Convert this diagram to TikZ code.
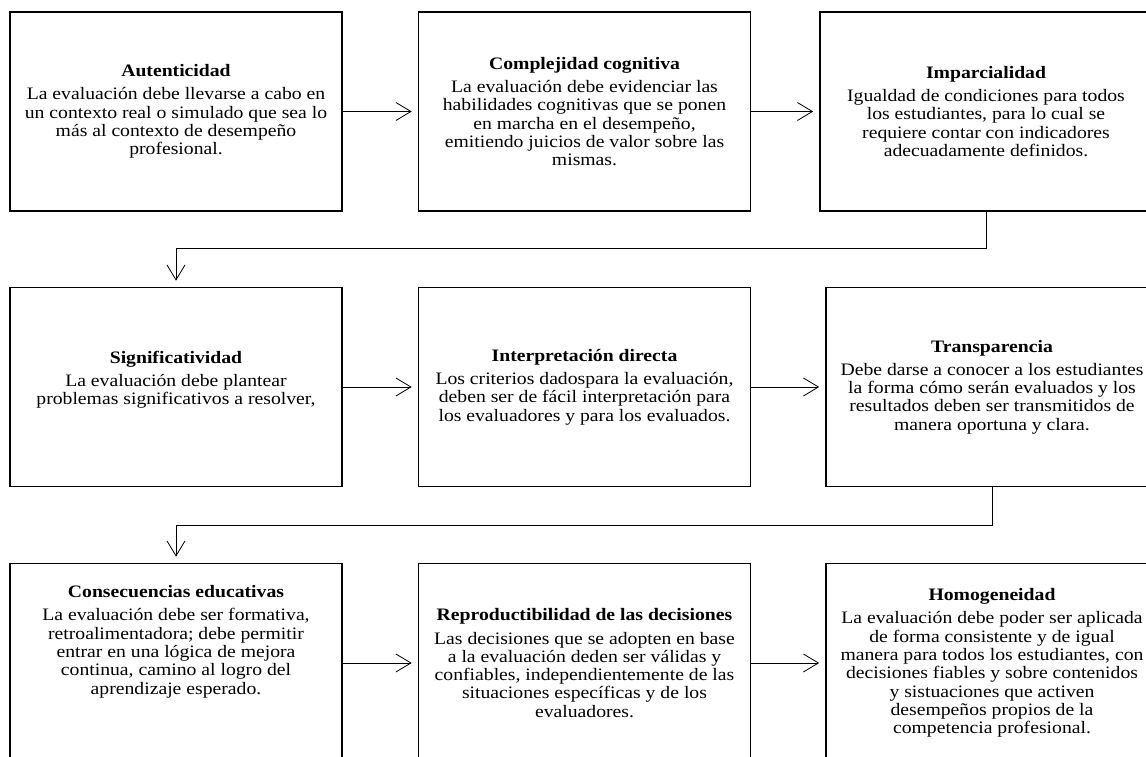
\documentclass[tikz,border=0pt]{standalone}
\usepackage{fontspec}
\setmainfont[FakeStretch=1.125]{Liberation Serif}
\usetikzlibrary{arrows.meta,positioning}

\tikzset{
  caja/.style={draw=black,line width=1.6pt,minimum width=332pt,minimum height=199pt,
    inner sep=0pt,align=center,font=\fontsize{17.5}{18.3}\selectfont},
  flecha/.style={draw=black,line width=0.8pt,-{Straight Barb[length=15pt,width=18pt]},shorten >=6pt}
}
\newcommand{\titulo}[1]{\textbf{#1}\\[5pt]}

\begin{document}
\begin{tikzpicture}[x=1pt,y=-1pt]
        \useasboundingbox (0,0) rectangle (1146,757);
        \begin{scope}[every node/.style={caja}]
          \node (aut) at (176,111.5) {\titulo{Autenticidad}
            La evaluación debe llevarse a cabo en\\ un contexto real o simulado que sea lo\\
            más al contexto de desempeño\\ profesional.};
          \node (comp) at (584.5,111.5) {\titulo{Complejidad cognitiva}
            La evaluación debe evidenciar las\\ habilidades cognitivas que se ponen\\
            en marcha en el desempeño,\\ emitiendo juicios de valor sobre las\\ mismas.};
          \node (imp) at (986,111.5) {\titulo{Imparcialidad}
            Igualdad de condiciones para todos\\ los estudiantes, para lo cual se\\
            requiere contar con indicadores\\ adecuadamente definidos.};
          \node (sig) at (176,387) {\titulo{Significatividad}
            La evaluación debe plantear\\ problemas significativos a resolver,\\ };
          \node (int) at (584.5,387) {\titulo{Interpretación directa}
            Los criterios dadospara la evaluación,\\ deben ser de fácil interpretación para\\
            los evaluadores y para los evaluados.};
          \node (trans) at (992,387) {\titulo{Transparencia}
            Debe darse a conocer a los estudiantes\\ la forma cómo serán evaluados y los\\
            resultados deben ser transmitidos de\\ manera oportuna y clara.};
          \node (cons) at (176,663) {\titulo{Consecuencias educativas}
            La evaluación debe ser formativa,\\ retroalimentadora; debe permitir\\
            entrar en una lógica de mejora\\ continua, camino al logro del\\
            aprendizaje esperado.\\[28pt]};
          \node (rep) at (584.5,663) {\titulo{Reproductibilidad de las decisiones}
            Las decisiones que se adopten en base\\ a la evaluación deden ser válidas y\\
            confiables, independientemente de las\\ situaciones específicas y de los\\
            evaluadores.};
          \node (hom) at (992,663) {\titulo{Homogeneidad}
            La evaluación debe poder ser aplicada\\ de forma consistente y de igual\\
            manera para todos los estudiantes, con\\ decisiones fiables y sobre contenidos\\
            y sistuaciones que activen\\ desempeños propios de la\\ competencia profesional.};
        \end{scope}
        \begin{scope}[every edge/.style={flecha}]
          \path (aut) edge (comp);
          \path (comp) edge (imp);
          \path (sig) edge (int);
          \path (int) edge (trans);
          \path (cons) edge (rep);
          \path (rep) edge (hom);
        \end{scope}
        \draw[flecha] (imp.south) -- ++(0,37) -| (sig.north);
        \draw[flecha] (trans.south) -- ++(0,38) -| (cons.north);
      \end{tikzpicture}
\end{document}
